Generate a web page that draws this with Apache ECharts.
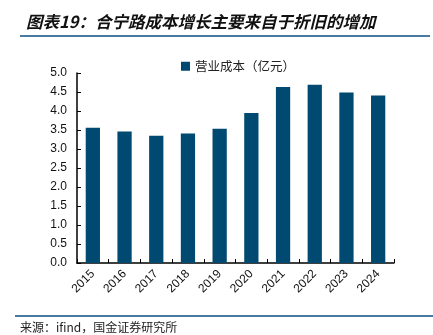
<!DOCTYPE html>
<html><head><meta charset="utf-8">
<script src="https://cdn.jsdelivr.net/npm/echarts@6/dist/echarts.min.js"></script>
<style>html,body{margin:0;padding:0;background:#fff;}#c{width:433px;height:335px;}</style>
</head><body><div id="c"></div>
<script>
const categories = ['2015','2016','2017','2018','2019','2020','2021','2022','2023','2024'];
const costValues = [3.56, 3.46, 3.35, 3.41, 3.53, 3.95, 4.63, 4.69, 4.49, 4.41];
const seriesName = '营业成本（亿元）';
const titleText = '图表19：合宁路成本增长主要来自于折旧的增加';
const sourceText = '来源：ifind，国金证券研究所';

const chart = echarts.init(document.getElementById('c'), null, {renderer:'canvas'});
chart.setOption({
  animation:false,
  backgroundColor:'#fff',
  title:{text:titleText,left:21,top:8,textStyle:{fontFamily:'Noto Sans CJK SC',fontSize:16.5,fontWeight:'bold',fontStyle:'italic',color:'#111'}},
  graphic:[
    {type:'line',shape:{x1:20,y1:36,x2:430,y2:36},style:{stroke:'#4a7aa0',lineWidth:2}},
    {type:'line',shape:{x1:15,y1:316,x2:433,y2:316},style:{stroke:'#4a7aa0',lineWidth:2}},
    {type:'text',left:20,top:321,style:{text:sourceText,font:'12px "Noto Sans CJK SC"',fill:'#222'}}
  ],
  legend:{data:[seriesName],left:176,top:55,itemWidth:9,itemHeight:9,itemGap:5,icon:'rect',
    textStyle:{fontFamily:'Noto Sans CJK SC',fontSize:12.5,color:'#222'}},
  grid:{left:77,right:39,top:73,bottom:72,containLabel:false},
  xAxis:{type:'category',data:categories,
    axisLine:{lineStyle:{color:'#000',width:1.5}},
    axisTick:{show:true,inside:true,length:4,lineStyle:{color:'#000'}},
    axisLabel:{rotate:45,fontFamily:'Liberation Sans',fontSize:12,color:'#111',margin:9}},
  yAxis:{type:'value',min:0,max:5,interval:0.5,
    axisLine:{show:true,lineStyle:{color:'#000',width:1.5}},
    axisTick:{show:true,inside:true,length:4,lineStyle:{color:'#000'}},
    splitLine:{show:false},
    axisLabel:{formatter:v=>v.toFixed(1),fontFamily:'Liberation Sans',fontSize:12,color:'#111',margin:10}},
  series:[{name:seriesName,type:'bar',data:costValues,barWidth:'45%',itemStyle:{color:'#004a72'}}]
});
</script></body></html>
